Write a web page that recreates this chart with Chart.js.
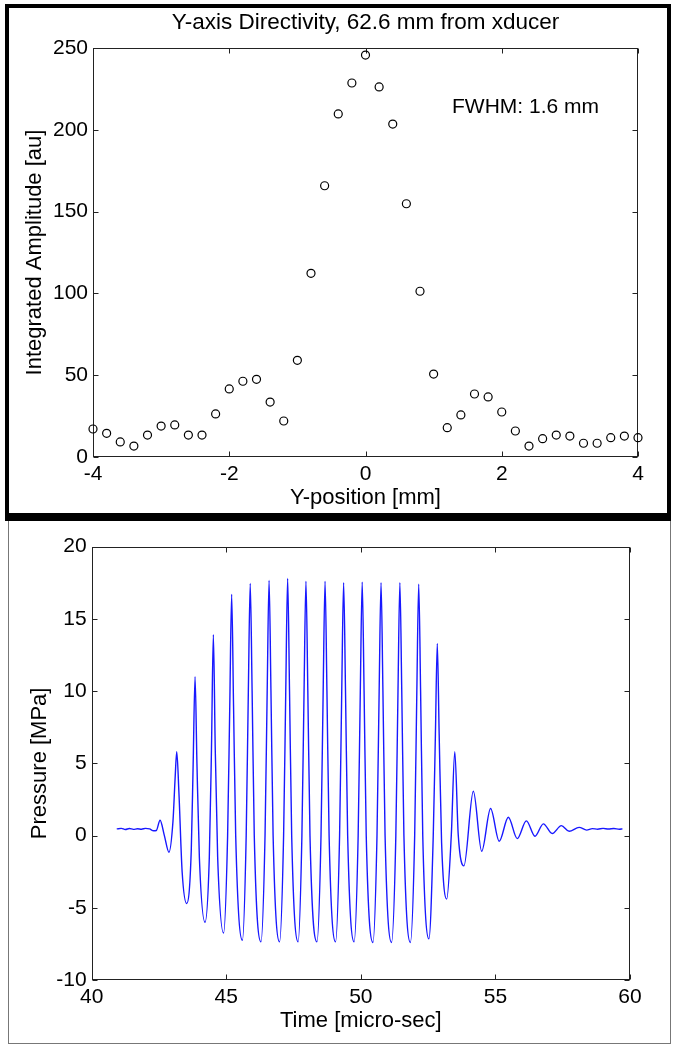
<!DOCTYPE html>
<html>
<head>
<meta charset="utf-8">
<script src="https://cdn.jsdelivr.net/npm/chart.js@4/dist/chart.umd.min.js"></script>
<style>
  body { margin: 0; background: #fff; width: 677px; height: 1050px; position: relative; overflow: hidden; }
  #marcoInf { position: absolute; left: 8px; top: 516px; width: 661px; height: 526px; border: 1px solid #777; }
  #marcoSup { position: absolute; left: 5px; top: 4px; width: 658px; height: 505px; border-style: solid; border-color: #000; border-width: 4px 4px 8px 4px; }
  canvas { position: absolute; left: 0; }
  #graficaSup { top: 0; }
  #graficaInf { top: 521px; }
</style>
</head>
<body>
<div id="marcoInf"></div>
<div id="marcoSup"></div>
<canvas id="graficaSup" width="677" height="512"></canvas>
<canvas id="graficaInf" width="677" height="523"></canvas>
<script>
// Datos del panel superior: directividad en el eje Y
const posiciones = [-4, -3.8, -3.6, -3.4, -3.2, -3, -2.8, -2.6, -2.4, -2.2, -2, -1.8, -1.6, -1.4, -1.2, -1, -0.8, -0.6, -0.4, -0.2,
    0, 0.2, 0.4, 0.6, 0.8, 1, 1.2, 1.4, 1.6, 1.8, 2, 2.2, 2.4, 2.6, 2.8, 3, 3.2, 3.4, 3.6, 3.8, 4];
const amplitudes = [17.1, 14.5, 9.2, 6.7, 13.4, 18.9, 19.6, 13.4, 13.4, 26.3, 41.6, 46.3, 47.5, 33.6, 22.0, 59.1, 112.3, 165.8, 209.7, 228.6,
    245.7, 226.2, 203.5, 154.8, 101.3, 50.7, 17.9, 25.7, 38.5, 36.7, 27.5, 15.9, 6.7, 11.2, 13.4, 12.8, 8.4, 8.4, 11.8, 12.8, 11.8];

const tiempos = [40.93, 41.10, 41.25, 41.40, 41.55, 41.70, 41.85, 42.00, 42.15, 42.30, 42.40, 42.54, 42.70, 42.87,
    43.02, 43.10, 43.16, 43.24, 43.36, 43.53, 43.70, 43.77, 43.84, 43.91, 44.00, 44.21,
    44.37, 44.45, 44.52, 44.59, 44.68, 44.90, 45.05, 45.13, 45.20, 45.27, 45.35, 45.60,
    45.74, 45.82, 45.89, 45.96, 46.04, 46.29, 46.44, 46.52, 46.59, 46.66, 46.74, 46.98,
    47.13, 47.21, 47.28, 47.35, 47.43, 47.67, 47.81, 47.89, 47.96, 48.03, 48.11, 48.37,
    48.52, 48.60, 48.67, 48.74, 48.82, 49.06, 49.21, 49.29, 49.36, 49.43, 49.51, 49.75,
    49.90, 49.98, 50.05, 50.12, 50.20, 50.45, 50.60, 50.68, 50.75, 50.82, 50.90, 51.14,
    51.30, 51.38, 51.45, 51.52, 51.60, 51.84, 52.00, 52.08, 52.15, 52.22, 52.30, 52.53,
    52.69, 52.77, 52.84, 52.91, 53.00, 53.19, 53.36, 53.49, 53.62, 53.83, 54.18, 54.49,
    54.82, 55.14, 55.48, 55.81, 56.15, 56.47, 56.78, 57.11, 57.45, 57.74, 58.11, 58.39,
    58.60, 58.80, 59.00, 59.20, 59.40, 59.60, 59.72];
const presiones = [0.46, 0.50, 0.42, 0.49, 0.43, 0.47, 0.44, 0.50, 0.46, 0.33, 0.35, 1.06, 0.0, -1.15,
    1.0, 4.0, 5.8, 3.0, -2.5, -4.7, -1.0, 5.0, 11.0, 5.0, -1.5, -6.0,
    -1.5, 6.0, 13.9, 6.0, -1.5, -6.75, 0.0, 9.0, 16.7, 9.0, 0.0, -7.25,
    0, 10, 17.45, 10, 0, -7.36, 0, 10, 17.66, 10, 0, -7.36,
    0, 10, 17.8, 10, 0, -7.36, 0, 10, 17.6, 10, 0, -7.36,
    0, 10, 17.6, 10, 0, -7.36, 0, 10, 17.5, 10, 0, -7.36,
    0, 10, 17.55, 10, 0, -7.4, 0, 10, 17.5, 10, 0, -7.4,
    0, 10, 17.5, 10, 0, -7.4, 0, 10, 17.4, 10, 0, -7.15,
    0, 7, 13.3, 7, -0.5, -4.4, 0, 5.8, 0, -2.1, 3.07, -1.09,
    1.87, -0.39, 1.27, -0.21, 1.02, -0.05, 0.81, 0.14, 0.69, 0.30, 0.57, 0.38,
    0.48, 0.44, 0.50, 0.45, 0.49, 0.44, 0.46];

const FUENTE = "'Liberation Sans', Arial, sans-serif";
Chart.defaults.font.family = FUENTE;
Chart.defaults.color = '#000';

// Caja estilo MATLAB con marcas hacia adentro en los cuatro lados
const cajaMatlab = {
    id: 'cajaMatlab',
    beforeDatasetsDraw(chart) {
        const { ctx, chartArea: a, scales } = chart;
        const L = Math.round(a.left) + 0.5, R = Math.round(a.right) - 0.5;
        const T = Math.round(a.top) + 0.5, B = Math.round(a.bottom) - 0.5;
        ctx.save();
        ctx.strokeStyle = '#222';
        ctx.lineWidth = 1;
        ctx.strokeRect(L, T, R - L, B - T);
        ctx.beginPath();
        scales.x.ticks.forEach(t => {
            const px = Math.round(scales.x.getPixelForValue(t.value)) + 0.5;
            ctx.moveTo(px, B); ctx.lineTo(px, B - 5);
            ctx.moveTo(px, T); ctx.lineTo(px, T + 5);
        });
        scales.y.ticks.forEach(t => {
            const py = Math.round(scales.y.getPixelForValue(t.value)) + 0.5;
            ctx.moveTo(L, py); ctx.lineTo(L + 5, py);
            ctx.moveTo(R, py); ctx.lineTo(R - 5, py);
        });
        ctx.stroke();
        ctx.restore();
    }
};

// Título y texto FWHM del panel superior (centrado sobre el área de la gráfica)
const textosSup = {
    id: 'textosSup',
    afterDraw(chart) {
        const { ctx, scales, chartArea: a } = chart;
        ctx.save();
        ctx.fillStyle = '#000';
        ctx.textBaseline = 'middle';
        ctx.font = '22.5px ' + FUENTE;
        ctx.textAlign = 'center';
        ctx.fillText('Y-axis Directivity, 62.6 mm from xducer', (a.left + a.right) / 2, 23);
        ctx.font = '21px ' + FUENTE;
        ctx.textAlign = 'left';
        ctx.fillText('FWHM: 1.6 mm', scales.x.getPixelForValue(1.27), scales.y.getPixelForValue(214));
        ctx.restore();
    }
};

function ejeLineal(min, max, paso, titulo, tituloPad, ajuste) {
    return {
        type: 'linear', min: min, max: max,
        ticks: { stepSize: paso, color: '#000', font: { size: 21 }, padding: 5 },
        grid: { display: false, drawTicks: false },
        border: { display: false },
        title: { display: true, text: titulo, color: '#000', font: { size: 22 }, padding: tituloPad },
        afterFit: ajuste
    };
}

// Panel superior: directividad
function generarDirectividad() {
    const ctx = document.getElementById('graficaSup').getContext('2d');
    new Chart(ctx, {
        type: 'scatter',
        data: {
            datasets: [{
                data: posiciones.map((x, i) => ({ x: x, y: amplitudes[i] })),
                pointStyle: 'circle',
                pointRadius: 4,
                pointBorderWidth: 1.2,
                pointBorderColor: '#000',
                pointBackgroundColor: 'rgba(0,0,0,0)',
                clip: false
            }]
        },
        options: {
            responsive: false,
            animation: false,
            events: [],
            layout: { padding: { left: 0, right: 39, top: 48, bottom: 0 } },
            plugins: {
                legend: { display: false },
                tooltip: { enabled: false }
            },
            scales: {
                x: ejeLineal(-4, 4, 2, 'Y-position [mm]', { top: 0, bottom: 0.8 }, s => { s.height = 55; }),
                y: ejeLineal(0, 250, 50, 'Integrated Amplitude [au]', { top: 21.8, bottom: 0 }, s => { s.width = 93; })
            }
        },
        plugins: [cajaMatlab, textosSup]
    });
}

// Panel inferior: forma de onda de presión
function generarPresion() {
    const ctx = document.getElementById('graficaInf').getContext('2d');
    new Chart(ctx, {
        type: 'line',
        data: {
            datasets: [{
                data: tiempos.map((t, i) => ({ x: t, y: presiones[i] })),
                borderColor: '#1818ff',
                borderWidth: 1.4,
                pointRadius: 0,
                cubicInterpolationMode: 'monotone',
                fill: false
            }]
        },
        options: {
            responsive: false,
            animation: false,
            events: [],
            layout: { padding: { left: 0, right: 47, top: 25.7, bottom: 0 } },
            plugins: { legend: { display: false }, tooltip: { enabled: false } },
            scales: {
                x: ejeLineal(40, 60, 5, 'Time [micro-sec]', { top: 0, bottom: 9.8 }, s => { s.height = 64; }),
                y: ejeLineal(-10, 20, 5, 'Pressure [MPa]', { top: 26.8, bottom: 0 }, s => { s.width = 91.7; })
            }
        },
        plugins: [cajaMatlab]
    });
}

document.addEventListener('DOMContentLoaded', function() {
    generarDirectividad();
    generarPresion();
});
</script>
</body>
</html>
